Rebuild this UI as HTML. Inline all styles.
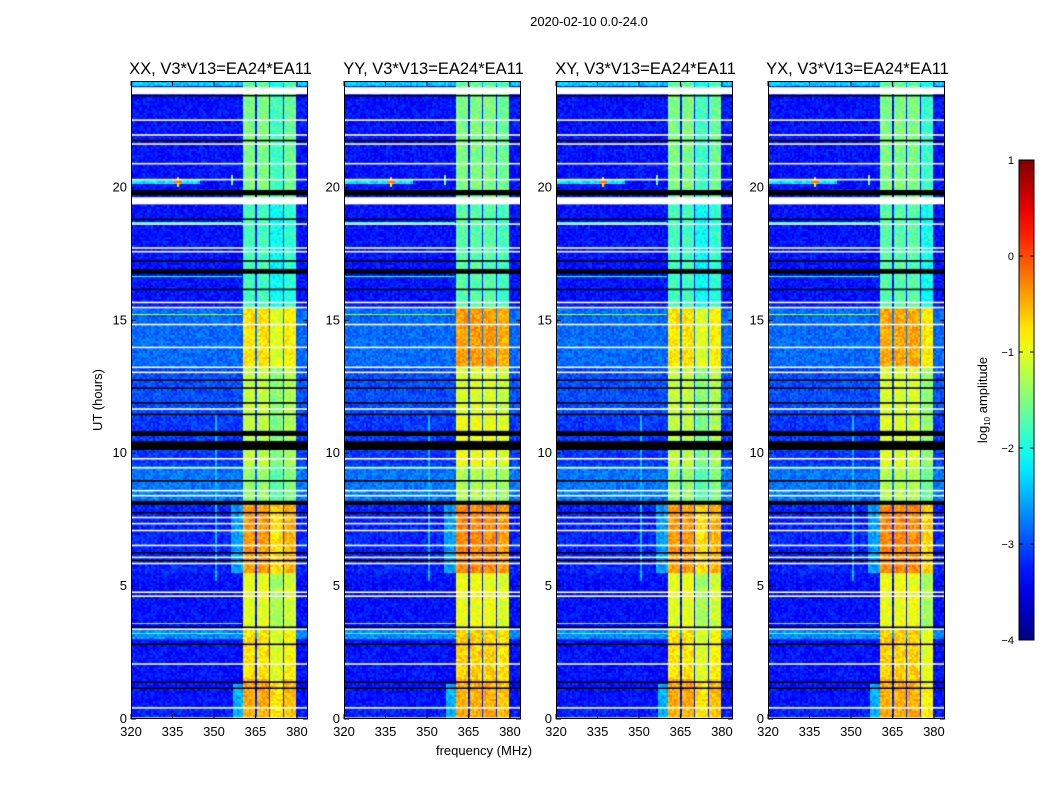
<!DOCTYPE html>
<html><head><meta charset="utf-8"><style>
body{margin:0;background:#fff;width:1050px;height:800px;overflow:hidden;font-family:"Liberation Sans",sans-serif}
#wrap{position:relative;width:1050px;height:800px}
canvas{position:absolute}
svg{position:absolute;left:0;top:0}
</style></head><body><div id="wrap">
<svg id="ov" width="1050" height="800"></svg>
</div>
<script>
// ---- data ----
const panelTitles = ["XX, V3*V13=EA24*EA11","YY, V3*V13=EA24*EA11","XY, V3*V13=EA24*EA11","YX, V3*V13=EA24*EA11"];
const xTicks = [320,335,350,365,380];
const yTicks = [0,5,10,15,20];
const cbTicks = [1,0,-1,-2,-3,-4];
const segStart = [0,0.5,1.5,3.0,3.4,5.5,8.2,9.5,11.5,13.2,15.5,19.5,23.8];
const segEnd   = [0.5,1.5,3.0,3.4,5.5,8.2,9.5,11.5,13.2,15.5,19.5,23.8,24];
const bgLevel  = [-3.2,-3.3,-3.3,-2.7,-3.3,-3.2,-2.8,-3.1,-3.0,-2.85,-3.3,-3.3,-2.4];
const bandXX = [-0.5,-0.45,-0.75,-0.75,-1.0,-0.4,-1.4,-1.2,-1.15,-0.75,-1.8,-1.5,-1.7];
const bandYY = [-0.45,-0.5,-0.65,-0.65,-0.95,-0.3,-1.25,-0.95,-1.05,-0.4,-1.7,-1.5,-1.7];
const bandXY = [-0.5,-0.45,-0.75,-0.75,-1.0,-0.4,-1.4,-1.2,-1.15,-0.75,-1.8,-1.5,-1.7];
const bandYX = [-0.45,-0.5,-0.65,-0.65,-0.95,-0.3,-1.25,-1.05,-1.05,-0.45,-1.7,-1.5,-1.7];
const bandColStart = [360.5,365.5,370.4,375.2];
const bandColEnd   = [365.0,370.0,374.8,379.8];
const colOffXX = [0,0,-0.3,-0.1];
const colOffYY = [0,0,0,-0.1];
const colOffXY = [0,0,-0.3,-0.1];
const colOffYX = [0,0,0,-0.35];
const featF0 = [320,335.5,336.7,356.3,320,320,320,320,320,350.5,357,356];
const featF1 = [345,338.5,337.3,356.8,360,360,360,360,360,351.0,360.5,360.5];
const featH0 = [20.14,20.15,20.0,20.1,18.66,16.63,15.21,3.56,3.21,5.2,0,5.5];
const featH1 = [20.28,20.27,20.4,20.45,18.71,16.67,15.25,3.61,3.25,11.5,1.3,8.2];
const featLv = [-2.2,-0.3,-0.8,-1.5,-1.7,-1.9,-1.4,-1.3,-1.5,-2.5,-2.5,-2.6];
const whiteH0 = [23.5,22.5,21.95,21.6,20.86,20.26,19.36,18.59,17.69,17.55,15.64,15.45,14.81,13.95,13.2,13.01,11.63,9.76,9.42,8.56,8.37,7.55,7.32,7.06,6.5,6.05,5.82,4.74,4.59,3.35,2.04,0.39,0.0];
const whiteH1 = [23.77,22.56,22.0,21.66,20.92,20.32,19.63,18.65,17.75,17.61,15.7,15.51,14.87,14.01,13.26,13.07,11.69,9.82,9.48,8.62,8.43,7.61,7.38,7.12,6.56,6.11,5.88,4.8,4.65,3.41,2.1,0.45,0.06];
const blackH0 = [23.42,21.73,19.7,18.77,17.2,16.75,16.13,12.72,12.42,11.86,11.43,10.65,10.12,8.93,8.06,7.73,6.22,5.93,3.42,2.78,1.36,1.13];
const blackH1 = [23.48,21.79,19.9,18.83,17.26,16.93,16.19,12.78,12.48,11.92,11.49,10.84,10.46,8.99,8.21,7.79,6.28,5.99,3.48,2.84,1.42,1.19];
// ---- layout ----
const panelX=[131,344,556,768], PW=177, PT=81, PH=638, F0=320, F1=384, H1=24;
const bands=[bandXX,bandYY,bandXY,bandYX], offs=[colOffXX,colOffYY,colOffXY,colOffYX];
const xs=(f,p)=>panelX[p]+(f-F0)/(F1-F0)*PW;
const ys=h=>PT+PH-(h/H1)*PH;
function jet(v){let t=(v+4)/5;t=Math.max(0,Math.min(1,t));
 const r=Math.max(0,Math.min(1,1.5-Math.abs(4*t-3))),g=Math.max(0,Math.min(1,1.5-Math.abs(4*t-2))),b=Math.max(0,Math.min(1,1.5-Math.abs(4*t-1)));
 return [r*255|0,g*255|0,b*255|0];}
function hash(a,b){let n=(a*374761393+b*668265263)|0;n=(n^(n>>13))*1274126177|0;return ((n^(n>>16))&1023)/1023;}
function val(f,h,p){let s=0;for(let i=0;i<segStart.length;i++)if(h>=segStart[i]&&h<segEnd[i]){s=i;break;}
 let v=bgLevel[s];
 for(let c=0;c<bandColStart.length;c++)if(f>=bandColStart[c]&&f<bandColEnd[c])v=bands[p][s]+offs[p][c];
 for(let k=0;k<featF0.length;k++)if(f>=featF0[k]&&f<featF1[k]&&h>=featH0[k]&&h<featH1[k])v=Math.max(v,featLv[k]);
 return v;}
const wrap=document.getElementById('wrap'), ov=document.getElementById('ov');
const NS='http://www.w3.org/2000/svg';
function mk(tag,attrs,txt){const e=document.createElementNS(NS,tag);for(const k in attrs)e.setAttribute(k,attrs[k]);if(txt!==undefined)e.textContent=txt;ov.appendChild(e);return e;}
for(let p=0;p<4;p++){
 const cv=document.createElement('canvas');cv.width=PW;cv.height=PH;cv.style.left=panelX[p]+'px';cv.style.top=PT+'px';
 
 
 wrap.insertBefore(cv,ov);
 const ctx=cv.getContext('2d'),im=ctx.createImageData(PW,PH);
 for(let y=0;y<PH;y++){const h=(PH-y-0.5)/PH*H1;
  for(let x=0;x<PW;x++){const f=F0+(x+0.5)/PW*(F1-F0);
   const v=val(f,h,p)+(hash(x>>1,y>>1)-0.5)*0.45;const c=jet(v),i=(y*PW+x)*4;
   im.data[i]=c[0];im.data[i+1]=c[1];im.data[i+2]=c[2];im.data[i+3]=255;}}
 ctx.putImageData(im,0,0);
 for(let k=0;k<whiteH0.length;k++){ctx.fillStyle='#fff';const y0=PH-whiteH1[k]/H1*PH;ctx.fillRect(0,y0,PW,Math.max(1.6,(whiteH1[k]-whiteH0[k])/H1*PH));}
 for(let k=0;k<blackH0.length;k++){ctx.fillStyle='#000';const y0=PH-blackH1[k]/H1*PH;ctx.fillRect(0,y0,PW,Math.max(1.3,(blackH1[k]-blackH0[k])/H1*PH));}
 const fr=mk('rect',{x:panelX[p]+0.5,y:PT+0.5,width:PW-1,height:PH-1,fill:'none',stroke:'#000','stroke-width':1});
 
 const t=mk('text',{x:panelX[p]+PW/2+1,y:74,'text-anchor':'middle','font-size':16.5},panelTitles[p]);
 
 xTicks.forEach(v=>{const x=xs(v,p);
  mk('line',{x1:x,x2:x,y1:PT+PH,y2:PT+PH-5,stroke:'#000'});mk('line',{x1:x,x2:x,y1:PT,y2:PT+5,stroke:'#000'});
  const l=mk('text',{x:x,y:PT+PH+17,'text-anchor':'middle','font-size':13},String(v));
  });
 yTicks.forEach(v=>{const y=ys(v);
  mk('line',{x1:panelX[p],x2:panelX[p]+5,y1:y,y2:y,stroke:'#000'});mk('line',{x1:panelX[p]+PW-5,x2:panelX[p]+PW,y1:y,y2:y,stroke:'#000'});
  const l=mk('text',{x:panelX[p]-4,y:y+4,'text-anchor':'end','font-size':13},String(v));
  });
}
let e=mk('text',{x:589,y:26,'text-anchor':'middle','font-size':13},'2020-02-10 0.0-24.0');

e=mk('text',{x:0,y:0,'text-anchor':'middle','font-size':13,transform:'translate(102,400) rotate(-90)'},'UT (hours)');

e=mk('text',{x:484,y:755,'text-anchor':'middle','font-size':13},'frequency (MHz)');

const cbX=1019,cbW=15,cbT=160,cbB=640;
const defs=mk('defs',{});const lg=document.createElementNS(NS,'linearGradient');lg.setAttribute('id','jg');lg.setAttribute('x1',0);lg.setAttribute('x2',0);lg.setAttribute('y1',1);lg.setAttribute('y2',0);defs.appendChild(lg);
for(let i=0;i<=20;i++){const c=jet(-4+i/4);const s=document.createElementNS(NS,'stop');s.setAttribute('offset',i/20);s.setAttribute('stop-color','rgb('+c.join(',')+')');lg.appendChild(s);}
e=mk('rect',{x:cbX,y:cbT,width:cbW,height:cbB-cbT,fill:'url(#jg)',stroke:'#000'});

cbTicks.forEach(v=>{const y=cbB-(v+4)/5*(cbB-cbT);
 mk('line',{x1:cbX,x2:cbX+4,y1:y,y2:y,stroke:'#000'});mk('line',{x1:cbX+cbW-4,x2:cbX+cbW,y1:y,y2:y,stroke:'#000'});
 const l=mk('text',{x:cbX-5,y:y+4,'text-anchor':'end','font-size':11},String(v).replace('-','\u2212'));
 });
e=mk('text',{x:0,y:0,'text-anchor':'middle','font-size':13,transform:'translate(987,400) rotate(-90)'});
e.innerHTML='log<tspan font-size="8" dy="3">10</tspan><tspan dy="-3"> amplitude</tspan>';

</script></body></html>
